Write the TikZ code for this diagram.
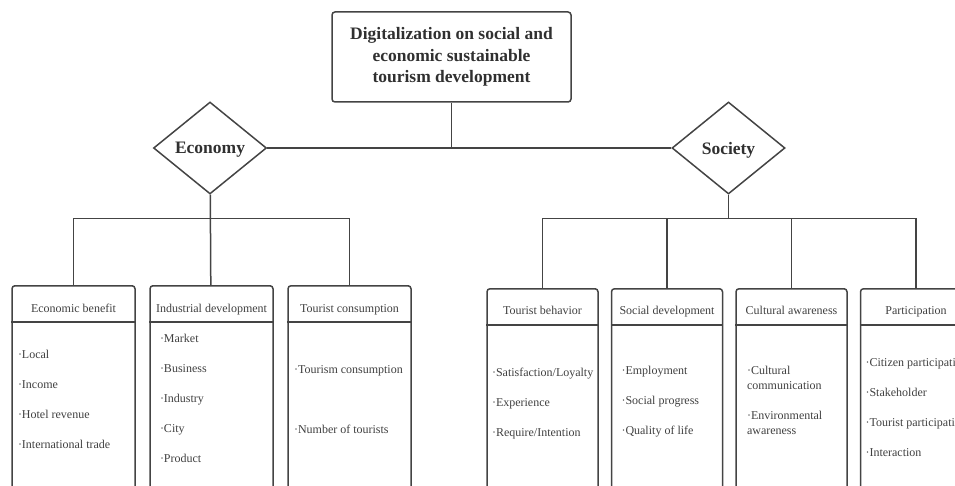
\documentclass[tikz,border=0pt]{standalone}
\usepackage{fontspec}
\setmainfont{Liberation Serif}
\usetikzlibrary{shapes.geometric,positioning}

\definecolor{linegray}{HTML}{444444}
\definecolor{txtgray}{HTML}{303030}
\definecolor{itemgray}{HTML}{404040}

\begin{document}
\begin{tikzpicture}[x=1pt,y=1pt,line width=1.5pt,color=linegray,
    title node/.style={draw,rounded corners=3pt,minimum width=239pt,minimum height=90pt,align=center,
      font=\fontsize{17.5}{21.5}\selectfont\bfseries,text=txtgray},
    dim node/.style={diamond,draw,aspect=1.22,minimum width=113pt,minimum height=92pt,inner sep=0pt,
      text depth=0pt,font=\fontsize{17.5}{21}\selectfont\bfseries,text=txtgray},
    cat box/.style={draw,rounded corners=3pt,minimum height=240pt,anchor=north,inner sep=0pt},
    eco box/.style={cat box,minimum width=123pt},
    soc box/.style={cat box,minimum width=111pt},
    cat head/.style={anchor=base,inner sep=0pt,font=\fontsize{12}{14}\selectfont,text=itemgray},
    item list/.style={anchor=north west,align=left,inner sep=0pt,font=\fontsize{12}{30}\selectfont,text=itemgray}
    ]
  \useasboundingbox (0,0) rectangle (955,485);
  \clip (0,0) rectangle (955,485);

  \node[title node] (title) at (451.5,428) {Digitalization on social and\\economic sustainable\\tourism development};
  \node[dim node] (eco) at (210,337) {Economy};
  \node[dim node] (soc) [right=404pt of eco] {Society};

  \node[eco box] (eb) at (73.5,200) {};
  \node[eco box] (ind) [right=13.5pt of eb] {};
  \node[eco box] (tc) [right=13.5pt of ind] {};

  \node[soc box] (tb) at (542.5,197) {};
  \node[soc box] (sd) [right=12pt of tb] {};
  \node[soc box] (ca) [right=12pt of sd] {};
  \node[soc box] (pa) [right=12pt of ca] {};

  \node[cat head] (ebh) at ([yshift=-27pt]eb.north) {Economic benefit};
  \node[cat head] (indh) at ([yshift=-27pt]ind.north) {Industrial development};
  \node[cat head] (tch) at ([yshift=-27pt]tc.north) {Tourist consumption};
  \node[cat head] (tbh) at ([yshift=-26pt]tb.north) {Tourist behavior};
  \node[cat head] (sdh) at ([yshift=-26pt]sd.north) {Social development};
  \node[cat head] (cah) at ([yshift=-26pt]ca.north) {Cultural awareness};
  \node[cat head] (pah) at ([yshift=-26pt]pa.north) {Participation};

  \foreach \b in {eb,ind,tc,tb,sd,ca,pa}
    \draw ([yshift=-37pt]\b.north west) -- ([yshift=-37pt]\b.north east);

  \node[item list] (ebl) at ([xshift=6pt,yshift=-64pt]eb.north west) {·Local\\·Income\\·Hotel revenue\\·International trade};
  \node[item list] (indl) at ([xshift=10pt,yshift=-48pt]ind.north west) {·Market\\·Business\\·Industry\\·City\\·Product};
  \node[item list] (tcl) at ([xshift=6pt,yshift=-80pt]tc.north west) {·Tourism consumption\\[30pt]·Number of tourists};
  \node[item list] (tbl) at ([xshift=5pt,yshift=-79pt]tb.north west) {·Satisfaction/Loyalty\\·Experience\\·Require/Intention};
  \node[item list] (sdl) at ([xshift=10pt,yshift=-77pt]sd.north west) {·Employment\\·Social progress\\·Quality of life};
  \node[item list,font=\fontsize{12}{15}\selectfont] (cal) at ([xshift=11pt,yshift=-77pt]ca.north west) {·Cultural\\communication\\[15pt]·Environmental\\awareness};
  \node[item list] (pal) at ([xshift=5pt,yshift=-70pt]pa.north west) {·Citizen participation\\·Stakeholder\\·Tourist participation\\·Interaction};

  \draw (eco) -- (soc);
  \draw (title) -- (title |- eco);

  \coordinate (ecobus) at ([yshift=-24pt]eco.south);
  \draw (eco) -- (ind);
  \draw (eb.north) |- (ecobus) -| (tc.north);

  \coordinate (socbus) at ([yshift=-24pt]soc.south);
  \draw (soc.south) -- (socbus);
  \draw (tb.north) |- (socbus) -| (pa.north);
  \draw (sd.north) -- (sd.north |- socbus);
  \draw (ca.north) -- (ca.north |- socbus);

\end{tikzpicture}
\end{document}
